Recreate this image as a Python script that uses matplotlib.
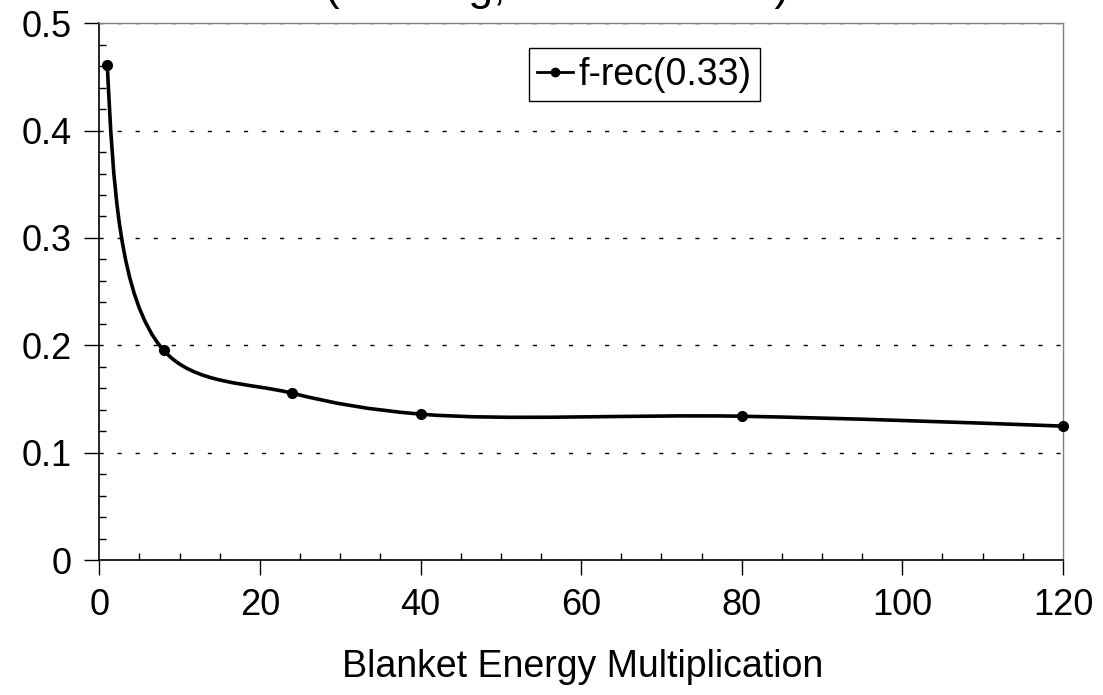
import numpy as np
import matplotlib
matplotlib.use("Agg")
import matplotlib.pyplot as plt
from matplotlib.path import Path
from matplotlib.patches import PathPatch
from matplotlib.lines import Line2D
from matplotlib.ticker import MultipleLocator

# blanket energy multiplication vs recirculating power fraction
blanket_mult = [1, 8, 24, 40, 80, 120]
f_rec = [0.461, 0.1955, 0.1555, 0.136, 0.134, 0.1248]
series_label = "f-rec(0.33)"
x_label = "Blanket Energy Multiplication"
title_text = "(Heating, Net 1.0 GWe)"


def smooth_curve(ax, xs, ys):
    """Centripetal Catmull-Rom through the points as a Bezier path, in screen space."""
    pts = ax.transData.transform(np.column_stack([xs, ys]))
    n = len(pts)
    h = np.sqrt(np.linalg.norm(np.diff(pts, axis=0), axis=1))
    sec = np.diff(pts, axis=0) / h[:, None]

    m = np.zeros_like(pts)
    for i in range(1, n - 1):
        m[i] = (sec[i - 1] * h[i] + sec[i] * h[i - 1]) / (h[i - 1] + h[i])
    # natural end conditions
    m[0] = (3 * sec[0] - m[1]) / 2
    m[-1] = (3 * sec[-1] - m[-2]) / 2

    verts = [pts[0]]
    codes = [Path.MOVETO]
    for i in range(n - 1):
        verts += [pts[i] + m[i] * h[i] / 3,
                  pts[i + 1] - m[i + 1] * h[i] / 3,
                  pts[i + 1]]
        codes += [Path.CURVE4] * 3
    verts = ax.transData.inverted().transform(np.array(verts))
    return Path(verts, codes)


def main():
    plt.rcParams["font.family"] = ["Liberation Sans", "DejaVu Sans"]

    fig = plt.figure(figsize=(11.03, 6.95), dpi=100)
    ax = fig.add_axes([0.090, 0.194, 0.8737, 0.7727])

    ax.set_xlim(0, 120)
    ax.set_ylim(0, 0.5)

    ax.xaxis.set_major_locator(MultipleLocator(20))
    ax.xaxis.set_minor_locator(MultipleLocator(5))
    ax.yaxis.set_major_locator(MultipleLocator(0.1))
    ax.yaxis.set_minor_locator(MultipleLocator(0.02))
    ax.yaxis.set_major_formatter(lambda v, pos: "0" if abs(v) < 1e-9 else f"{v:.1f}")

    ax.tick_params(which="major", direction="out", length=11, width=1.0,
                   labelsize=26, pad=9, color="black")
    ax.tick_params(which="minor", direction="in", length=5, width=1.0, color="black")

    for side in ("left", "bottom"):
        ax.spines[side].set_color("black")
        ax.spines[side].set_linewidth(1.2)
    for side in ("top", "right"):
        ax.spines[side].set_color("#808080")
        ax.spines[side].set_linewidth(1.0)

    ax.grid(axis="y", which="major", color="black", linewidth=1.0,
            linestyle=(0, (3, 10)))
    ax.set_axisbelow(True)

    path = smooth_curve(ax, blanket_mult, f_rec)
    ax.add_patch(PathPatch(path, fill=False, edgecolor="black", linewidth=2.6,
                           capstyle="round", joinstyle="round", zorder=3))
    ax.plot(blanket_mult, f_rec, linestyle="none", marker="o", markersize=7,
            color="black", clip_on=False, zorder=4)

    handle = Line2D([], [], color="black", linewidth=2.0, marker="o", markersize=6)
    leg = ax.legend([handle], [series_label], loc="upper left",
                    bbox_to_anchor=(0.446, 0.953), borderaxespad=0,
                    fontsize=27, frameon=True, fancybox=False, framealpha=1,
                    edgecolor="black", handlelength=0.95, handletextpad=0.15,
                    borderpad=0.22)
    leg.get_frame().set_linewidth(1.0)

    ax.set_xlabel(x_label, fontsize=27)
    ax.xaxis.set_label_coords(0.502, -0.166)

    fig.text(0.505, 1.0, title_text, fontsize=32, ha="center", va="baseline")

    fig.savefig("out.png", dpi=100)


if __name__ == "__main__":
    main()
